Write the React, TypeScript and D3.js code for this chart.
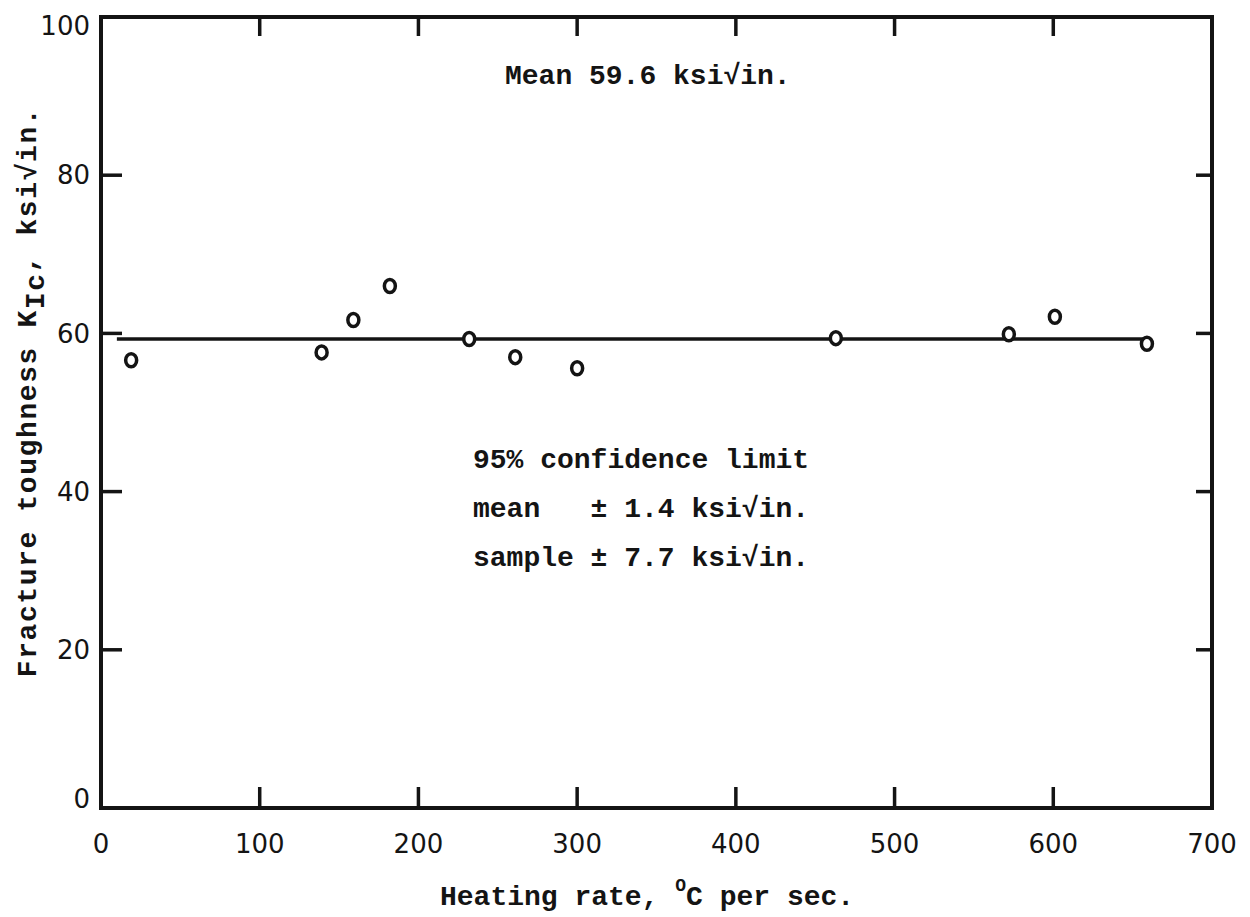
import { line, scaleLinear, select } from "d3";
import React, { useEffect, useRef } from "react";

// heating rate (deg C per sec) and fracture toughness K_Ic (ksi sqrt in.)
const heatingRate = [19, 139, 159, 182, 232, 261, 300, 463, 572, 601, 659];
const toughness = [56.6, 57.6, 61.7, 66.0, 59.3, 57.0, 55.6, 59.4, 59.9, 62.1, 58.7];

const meanValue = 59.3;
const meanSpan = [10, 660];

const xTicks = [0, 100, 200, 300, 400, 500, 600, 700];
const yTicks = [0, 20, 40, 60, 80, 100];

const noteTop = "Mean 59.6 ksi\u221Ain.";
const noteLines = [
    "95% confidence limit",
    "mean   \u00B1 1.4 ksi\u221Ain.",
    "sample \u00B1 7.7 ksi\u221Ain.",
];

const mono = "'Liberation Mono', 'Courier New', monospace";
const sans = "'DejaVu Sans', sans-serif";
const ink = "#141414";

const App: React.FC = () => {
    const svgRef = useRef<SVGSVGElement>(null);

    useEffect(() => {
        if (!svgRef.current) return;
        svgRef.current.innerHTML = "";

        const width = 1250,
            height = 917;

        const x = scaleLinear().domain([0, 700]).range([101, 1212]);
        const y = scaleLinear().domain([0, 100]).range([808, 17]);

        const svg = select(svgRef.current)
            .attr("width", width)
            .attr("height", height);

        svg.append("rect")
            .attr("width", width)
            .attr("height", height)
            .attr("fill", "#fff");

        // frame
        svg.append("rect")
            .attr("x", x(0))
            .attr("y", y(100))
            .attr("width", x(700) - x(0))
            .attr("height", y(0) - y(100))
            .attr("fill", "none")
            .attr("stroke", ink)
            .attr("stroke-width", 4);

        // inward ticks on all four sides
        const inner = xTicks.slice(1, -1);
        svg.append("g")
            .selectAll("line")
            .data(inner)
            .enter()
            .append("line")
            .attr("x1", d => x(d))
            .attr("x2", d => x(d))
            .attr("y1", y(0))
            .attr("y2", y(0) - 21)
            .attr("stroke", ink)
            .attr("stroke-width", 3.5);
        svg.append("g")
            .selectAll("line")
            .data(inner)
            .enter()
            .append("line")
            .attr("x1", d => x(d))
            .attr("x2", d => x(d))
            .attr("y1", y(100))
            .attr("y2", y(100) + 19)
            .attr("stroke", ink)
            .attr("stroke-width", 3.5);

        const innerY = yTicks.slice(1, -1);
        svg.append("g")
            .selectAll("line")
            .data(innerY)
            .enter()
            .append("line")
            .attr("x1", x(0))
            .attr("x2", x(0) + 21)
            .attr("y1", d => y(d))
            .attr("y2", d => y(d))
            .attr("stroke", ink)
            .attr("stroke-width", 3.5);
        svg.append("g")
            .selectAll("line")
            .data(innerY)
            .enter()
            .append("line")
            .attr("x1", x(700))
            .attr("x2", x(700) - 16)
            .attr("y1", d => y(d))
            .attr("y2", d => y(d))
            .attr("stroke", ink)
            .attr("stroke-width", 3.5);

        // tick labels
        svg.append("g")
            .selectAll("text")
            .data(xTicks)
            .enter()
            .append("text")
            .attr("x", d => x(d))
            .attr("y", 853)
            .attr("text-anchor", "middle")
            .attr("font-family", sans)
            .attr("font-size", 26)
            .attr("fill", ink)
            .text(d => d);

        svg.append("g")
            .selectAll("text")
            .data(yTicks)
            .enter()
            .append("text")
            .attr("x", 90)
            .attr("y", d => y(d) + (d === 100 ? 9 : d === 0 ? -9 : 0))
            .attr("dy", "0.35em")
            .attr("text-anchor", "end")
            .attr("font-family", sans)
            .attr("font-size", 26)
            .attr("fill", ink)
            .text(d => d);

        // mean line
        const meanLine = line<number>()
            .x(d => x(d))
            .y(() => y(meanValue));
        svg.append("path")
            .datum(meanSpan)
            .attr("d", meanLine)
            .attr("fill", "none")
            .attr("stroke", ink)
            .attr("stroke-width", 3.5);

        // data points
        svg.append("g")
            .selectAll("ellipse")
            .data(heatingRate)
            .enter()
            .append("ellipse")
            .attr("cx", d => x(d))
            .attr("cy", (d, i) => y(toughness[i]))
            .attr("rx", 5.5)
            .attr("ry", 6.5)
            .attr("fill", "#fff")
            .attr("stroke", ink)
            .attr("stroke-width", 3.5);

        // annotations
        svg.append("text")
            .attr("x", 505)
            .attr("y", 84)
            .attr("font-family", mono)
            .attr("font-weight", "bold")
            .attr("font-size", 28)
            .attr("fill", ink)
            .style("white-space", "pre")
            .text(noteTop);

        svg.append("g")
            .selectAll("text")
            .data(noteLines)
            .enter()
            .append("text")
            .attr("x", 473)
            .attr("y", (d, i) => 468 + i * 49)
            .attr("font-family", mono)
            .attr("font-weight", "bold")
            .attr("font-size", 28)
            .attr("fill", ink)
            .style("white-space", "pre")
            .text(d => d);

        // x axis title
        const xt = svg
            .append("text")
            .attr("x", 440)
            .attr("y", 905)
            .attr("font-family", mono)
            .attr("font-weight", "bold")
            .attr("font-size", 28)
            .attr("fill", ink)
            .style("white-space", "pre");
        xt.append("tspan").text("Heating rate, ");
        xt.append("tspan").attr("font-size", 18).attr("dy", -14).text("O");
        xt.append("tspan").attr("dy", 14).text("C per sec.");

        // y axis title
        const yt = svg
            .append("text")
            .attr("transform", "translate(36,392) rotate(-90)")
            .attr("text-anchor", "middle")
            .attr("font-family", mono)
            .attr("font-weight", "bold")
            .attr("font-size", 28)
            .attr("letter-spacing", 1.6)
            .attr("fill", ink)
            .style("white-space", "pre");
        yt.append("tspan").text("Fracture toughness K");
        yt.append("tspan").attr("dy", 8).text("Ic");
        yt.append("tspan").attr("dy", -8).text(", ksi\u221Ain.");
    }, []);

    return (
        <svg
            ref={svgRef}
            style={{ position: "absolute", left: 0, top: 0, display: "block" }}
        ></svg>
    );
};

export default App;
